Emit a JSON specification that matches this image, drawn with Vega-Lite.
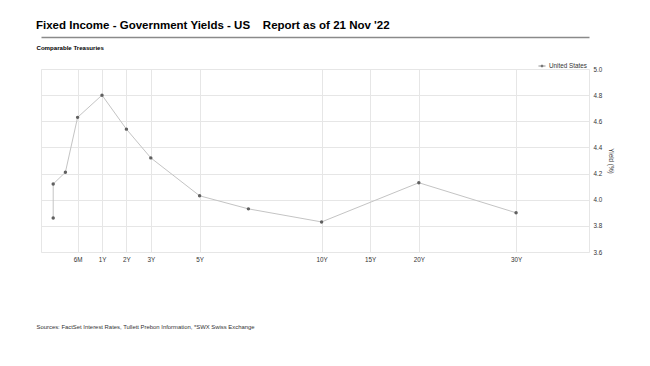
{
  "$schema": "https://vega.github.io/schema/vega-lite/v6.json",
  "autosize": {"type": "none"},
  "padding": {"left": 41, "top": 69, "right": 61, "bottom": 114},
  "width": 548,
  "height": 183,
  "background": "white",
  "config": {
    "font": "Liberation Sans",
    "view": {"stroke": "#e6e6e6", "strokeWidth": 1}
  },
  "title": {
    "text": "Fixed Income - Government Yields - US\u00a0\u00a0\u00a0\u00a0Report as of 21 Nov '22",
    "anchor": "start",
    "frame": "group",
    "dx": -5,
    "offset": 6,
    "fontSize": 11.5,
    "fontWeight": "bold",
    "color": "#000000"
  },
  "data": {
    "values": [
      {"country": "United States", "tenor": "1M", "years": 0.0833, "yield": 3.86},
      {"country": "United States", "tenor": "2M", "years": 0.1667, "yield": 4.12},
      {"country": "United States", "tenor": "3M", "years": 0.25, "yield": 4.21},
      {"country": "United States", "tenor": "6M", "years": 0.5, "yield": 4.63},
      {"country": "United States", "tenor": "1Y", "years": 1, "yield": 4.8},
      {"country": "United States", "tenor": "2Y", "years": 2, "yield": 4.54},
      {"country": "United States", "tenor": "3Y", "years": 3, "yield": 4.32},
      {"country": "United States", "tenor": "5Y", "years": 5, "yield": 4.03},
      {"country": "United States", "tenor": "7Y", "years": 7, "yield": 3.93},
      {"country": "United States", "tenor": "10Y", "years": 10, "yield": 3.83},
      {"country": "United States", "tenor": "20Y", "years": 20, "yield": 4.13},
      {"country": "United States", "tenor": "30Y", "years": 30, "yield": 3.9}
    ]
  },
  "encoding": {
    "y": {
      "field": "yield",
      "type": "quantitative",
      "scale": {"domain": [3.6, 5.0], "zero": false, "nice": false},
      "axis": {
        "orient": "right",
        "values": [3.6, 3.8, 4.0, 4.2, 4.4, 4.6, 4.8, 5.0],
        "format": ".1f",
        "grid": true,
        "gridColor": "#e6e6e6",
        "ticks": false,
        "domain": false,
        "labelFontSize": 6.3,
        "labelColor": "#333333",
        "labelPadding": 4,
        "labelOverlap": false,
        "title": "Yield (%)",
        "titleFontSize": 6.3,
        "titleFontWeight": "normal",
        "titleColor": "#333333",
        "titlePadding": 6
      }
    }
  },
  "layer": [
    {
      "mark": {"type": "line", "color": "#c4c4c4", "strokeWidth": 1},
      "encoding": {
        "x": {
          "field": "years",
          "type": "quantitative",
          "scale": {
            "domain": [0, 0.0833, 0.1667, 0.25, 0.5, 1, 10, 37.5],
            "range": [0, 12.2, 12.2, 24.4, 36.6, 61, 280.6, 548],
            "zero": false,
            "nice": false
          },
          "axis": {
            "orient": "bottom",
            "values": [0.5, 1, 2, 3, 5, 10, 15, 20, 30],
            "labelExpr": "datum.value == 0.5 ? '6M' : datum.value + 'Y'",
            "grid": true,
            "gridColor": "#e6e6e6",
            "ticks": false,
            "domain": false,
            "labelFontSize": 6.3,
            "labelColor": "#333333",
            "labelPadding": 4,
            "title": "Sources: FactSet Interest Rates, Tullett Prebon Information, *SWX Swiss Exchange",
            "titleFontSize": 5.9,
            "titleFontWeight": "normal",
            "titleColor": "#333333",
            "titleX": -5,
            "titleY": 74,
            "titleAlign": "left",
            "titleAnchor": "start",
            "titleBaseline": "middle"
          }
        }
      }
    },
    {
      "mark": {"type": "point", "filled": true, "size": 12, "opacity": 1},
      "encoding": {
        "x": {
          "field": "years",
          "type": "quantitative",
          "axis": {
            "orient": "top",
            "offset": 32,
            "domain": true,
            "domainColor": "#8a8a8a",
            "domainWidth": 1.5,
            "ticks": false,
            "labels": false,
            "grid": false,
            "title": "Comparable Treasuries",
            "titleFontSize": 6.1,
            "titleFontWeight": "bold",
            "titleColor": "#000000",
            "titleX": -5,
            "titleY": 10,
            "titleAlign": "left",
            "titleAnchor": "start",
            "titleBaseline": "middle"
          }
        },
        "color": {
          "field": "country",
          "type": "nominal",
          "scale": {"range": ["#606060"]},
          "legend": {
            "title": null,
            "orient": "none",
            "legendX": 497,
            "legendY": -7,
            "labelFontSize": 6.3,
            "labelColor": "#333333",
            "labelOffset": 3,
            "symbolType": "M-1,0H-0.3M0.3,0H1M-0.3,0A0.3,0.3,0,1,1,0.3,0A0.3,0.3,0,1,1,-0.3,0Z",
            "symbolSize": 50,
            "symbolStrokeWidth": 0.8,
            "symbolStrokeColor": "#777777",
            "symbolFillColor": "#606060"
          }
        }
      }
    }
  ],
  "resolve": {"axis": {"x": "independent"}}
}
